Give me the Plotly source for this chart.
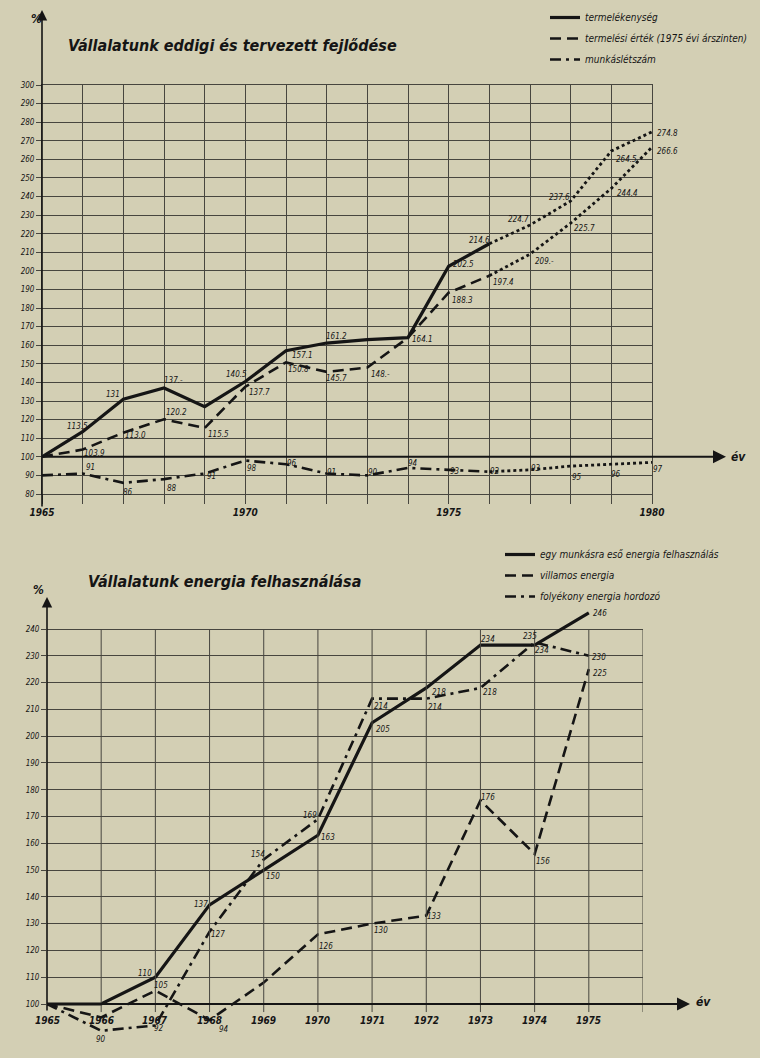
import plotly.graph_objects as go

W, H = 760, 1058
BG = "#d3cfb4"
INK = "#151515"
GRID = "#47463f"
LBL_FONT = "DejaVu Sans Condensed, Liberation Sans Narrow, DejaVu Sans"
TTL_FONT = "DejaVu Sans Condensed, Liberation Sans Narrow, DejaVu Sans"

# ---------------- top chart data ----------------
top_tick_years = [1965, 1970, 1975, 1980]
top_tick_text = ["1965", "1970", "1975", "1980"]

prod_years = list(range(1965, 1977))
prod_vals = [100, 113.5, 131, 137, 127, 140.5, 157.1, 161.2, 163, 164.1, 202.5, 214.6]
prod_labels = ["", "113.5", "131", "137.-", "", "140.5", "157.1", "161.2", "", "164.1", "202.5", "214.6"]
prod_plan_years = [1976, 1977, 1978, 1979, 1980]
prod_plan_vals = [214.6, 224.7, 237.6, 264.5, 274.8]
prod_plan_labels = ["", "224.7", "237.6", "264.5", "274.8"]

value_years = list(range(1965, 1977))
value_vals = [100, 103.9, 113.0, 120.2, 115.5, 137.7, 150.8, 145.7, 148, 164.1, 188.3, 197.4]
value_labels = ["", "103.9", "113.0", "120.2", "115.5", "137.7", "150.8", "145.7", "148.-", "", "188.3", "197.4"]
value_plan_years = [1976, 1977, 1978, 1979, 1980]
value_plan_vals = [197.4, 209, 225.7, 244.4, 266.6]
value_plan_labels = ["", "209.-", "225.7", "244.4", "266.6"]

staff_years = list(range(1965, 1977))
staff_vals = [90, 91, 86, 88, 91, 98, 96, 91, 90, 94, 93, 92]
staff_labels = ["", "91", "86", "88", "91", "98", "96", "91", "90", "94", "93", "92"]
staff_plan_years = [1976, 1977, 1978, 1979, 1980]
staff_plan_vals = [92, 93, 95, 96, 97]
staff_plan_labels = ["", "93", "95", "96", "97"]

# ---------------- bottom chart data ----------------
en_years = list(range(1965, 1976))
en_tick_text = [str(y) for y in en_years]
energy_vals = [100, 100, 110, 137, 150, 163, 205, 218, 234, 234, 246]
energy_labels = ["", "", "110", "137", "150", "163", "205", "218", "234", "234", "246"]
elec_vals = [100, 95, 105, 94, 108, 126, 130, 133, 176, 156, 225]
elec_labels = ["", "", "105", "94", "", "126", "130", "133", "176", "156", "225"]
fluid_vals = [100, 90, 92, 127, 154, 169, 214, 214, 218, 235, 230]
fluid_labels = ["", "90", "92", "127", "154", "169", "214", "214", "218", "235", "230"]

# label offsets (pixels: right, down) -- styling only
prod_off = [None, (-5, -5), (-10, -5), (9, -8), None, (-9, -7), (16, 5), (10, -7), None, (14, 2), (15, -2), (-10, -3)]
prod_plan_off = [None, (-12, -5), (-11, -4), (15, 8), (15, 2)]
value_off = [None, (12, 4), (12, 3), (12, -7), (14, 6), (14, 6), (12, 7), (10, 7), (13, 7), None, (14, 8), (14, 7)]
value_plan_off = [None, (14, 7), (14, 5), (16, 5), (15, 4)]
staff_off = [None, (8, -6), (5, 10), (8, 9), (7, 3), (7, 8), (6, -1), (5, -1), (6, -3), (5, -4), (6, 2), (6, 0)]
staff_plan_off = [None, (6, -1), (6, 11), (5, 10), (6, 7)]
energy_off = [None, None, (-10, -4), (-9, 0), (9, 6), (10, 2), (11, 7), (13, 5), (8, -6), (7, 5), (11, 1)]
elec_off = [None, None, (6, -5), (14, 9), None, (8, 12), (9, 7), (8, 1), (8, -3), (8, 7), (11, 4)]
fluid_off = [None, (0, 9), (4, 3), (8, 3), (-6, -5), (-8, -4), (9, 8), (9, 9), (10, 5), (-5, -6), (10, 2)]

# ---------------- geometry ----------------
T_L, T_R, T_TOP, T_BOT = 42, 652, 85, 494
T_YMIN, T_YMAX = 80, 300
B_L, B_R = 47, 643
B_YMIN, B_YMAX = 84, 250
b_scale = (1004 - 629) / 140.0
B_BOT = 1004 + (100 - B_YMIN) * b_scale
B_TOP = 629 - (B_YMAX - 240) * b_scale


def px(x):
    return x / W


def py(y):
    return 1 - y / H


def top_y_px(v):
    return T_TOP + (T_YMAX - v) * (T_BOT - T_TOP) / (T_YMAX - T_YMIN)


def bot_y_px(v):
    return 1004 - (v - 100) * b_scale


fig = go.Figure()

SOLID = dict(color=INK, width=3.2)
DASHED = dict(color=INK, width=2.6, dash="11px,6px")
DASHDOT = dict(color=INK, width=2.6, dash="11px,5px,3px,5px")
DOTTED = dict(color=INK, width=2.8, dash="3px,3px")

fig.add_trace(go.Scatter(x=prod_years, y=prod_vals, mode="lines", line=SOLID,
                         name="termelékenység", legend="legend", legendgroup="a",
                         xaxis="x", yaxis="y"))
fig.add_trace(go.Scatter(x=value_years, y=value_vals, mode="lines", line=DASHED,
                         name="termelési érték (1975 évi árszinten)", legend="legend", legendgroup="b",
                         xaxis="x", yaxis="y"))
fig.add_trace(go.Scatter(x=staff_years, y=staff_vals, mode="lines", line=DASHDOT,
                         name="munkáslétszám", legend="legend", legendgroup="c",
                         xaxis="x", yaxis="y"))
for xs, ys in [(prod_plan_years, prod_plan_vals), (value_plan_years, value_plan_vals),
               (staff_plan_years, staff_plan_vals)]:
    fig.add_trace(go.Scatter(x=xs, y=ys, mode="lines", line=DOTTED, showlegend=False,
                             xaxis="x", yaxis="y"))

fig.add_trace(go.Scatter(x=en_years, y=energy_vals, mode="lines", line=SOLID,
                         name="egy munkásra eső energia felhasználás", legend="legend2", legendgroup="d",
                         xaxis="x2", yaxis="y2"))
fig.add_trace(go.Scatter(x=en_years, y=elec_vals, mode="lines", line=DASHED,
                         name="villamos energia", legend="legend2", legendgroup="e",
                         xaxis="x2", yaxis="y2"))
fig.add_trace(go.Scatter(x=en_years, y=fluid_vals, mode="lines", line=DASHDOT,
                         name="folyékony energia hordozó", legend="legend2", legendgroup="f",
                         xaxis="x2", yaxis="y2"))

annotations = []


def add_labels(xs, ys, labels, offs, xr, yr):
    for x, y, t, o in zip(xs, ys, labels, offs):
        if not t or o is None:
            continue
        annotations.append(dict(x=x, y=y, xref=xr, yref=yr, text=t, showarrow=False,
                                xshift=o[0], yshift=-o[1],
                                font=dict(family=LBL_FONT, size=8, color=INK, style="italic")))


add_labels(prod_years, prod_vals, prod_labels, prod_off, "x", "y")
add_labels(prod_plan_years, prod_plan_vals, prod_plan_labels, prod_plan_off, "x", "y")
add_labels(value_years, value_vals, value_labels, value_off, "x", "y")
add_labels(value_plan_years, value_plan_vals, value_plan_labels, value_plan_off, "x", "y")
add_labels(staff_years, staff_vals, staff_labels, staff_off, "x", "y")
add_labels(staff_plan_years, staff_plan_vals, staff_plan_labels, staff_plan_off, "x", "y")
add_labels(en_years, energy_vals, energy_labels, energy_off, "x2", "y2")
add_labels(en_years, elec_vals, elec_labels, elec_off, "x2", "y2")
add_labels(en_years, fluid_vals, fluid_labels, fluid_off, "x2", "y2")

for yr, t in zip(en_years, en_tick_text):
    annotations.append(dict(x=yr, y=100, xref="x2", yref="y2", text=t, showarrow=False,
                            yshift=-16, font=dict(family=TTL_FONT, size=10, color=INK,
                                                  weight="bold", style="italic")))


def arrow(hx, hy, tx, ty, w=1.6):
    annotations.append(dict(x=px(hx), y=py(hy), xref="paper", yref="paper", text="",
                            showarrow=True, ax=tx - hx, ay=ty - hy, axref="pixel", ayref="pixel",
                            arrowhead=2, arrowsize=1.3, arrowwidth=w, arrowcolor=INK, standoff=0))


t100 = top_y_px(100)
arrow(T_L, 10, T_L, 508)
arrow(726, t100, T_L, t100, 2.0)
b100 = bot_y_px(100)
arrow(B_L, 597, B_L, 1012)
arrow(690, b100, B_L, b100, 2.0)


def text(x, y, t, size, bold=True, anchor="left"):
    annotations.append(dict(x=px(x), y=py(y), xref="paper", yref="paper", text=t, showarrow=False,
                            xanchor=anchor, yanchor="middle",
                            font=dict(family=TTL_FONT, size=size, color=INK,
                                      weight="bold" if bold else "normal", style="italic")))


text(66, 46, "Vállalatunk eddigi és tervezett fejlődése", 16)
text(86, 581, "Vállalatunk energia felhasználása", 16)
text(29, 19, "%", 12)
text(31, 590, "%", 12)
text(729, t100, "év", 12)
text(694, b100 - 2, "év", 12)

shapes = []
for yr in range(1966, 1977):
    shapes.append(dict(type="line", xref="x2", yref="y2", x0=yr, x1=yr, y0=97, y1=240,
                       line=dict(color=GRID, width=1)))

tick_font_small = dict(family=LBL_FONT, size=8, color=INK, style="italic")

fig.update_layout(
    width=W, height=H,
    margin=dict(l=0, r=0, t=0, b=0, autoexpand=False),
    paper_bgcolor=BG, plot_bgcolor=BG,
    showlegend=True,
    xaxis=dict(domain=[px(T_L), px(T_R)], range=[1965, 1980], anchor="y", automargin=False,
               tickvals=top_tick_years, ticktext=top_tick_text,
               showgrid=True, gridcolor=GRID, gridwidth=1,
               minor=dict(dtick=1, tick0=1965, showgrid=True, gridcolor=GRID, gridwidth=1,
                          ticks="outside", ticklen=9, tickcolor=GRID),
               ticks="outside", ticklen=9, tickcolor=GRID,
               showline=True, mirror=True, linecolor=GRID, linewidth=1, zeroline=False,
               tickfont=dict(family=TTL_FONT, size=10, color=INK, weight="bold", style="italic")),
    yaxis=dict(domain=[py(T_BOT), py(T_TOP)], range=[T_YMIN, T_YMAX], anchor="x", automargin=False,
               dtick=10, tick0=0, showgrid=True, gridcolor=GRID, gridwidth=1,
               ticks="outside", ticklen=5, tickcolor=GRID,
               showline=True, mirror=True, linecolor=GRID, zeroline=False,
               tickfont=tick_font_small),
    xaxis2=dict(domain=[px(B_L), px(B_R)], range=[1965, 1976], anchor="y2", automargin=False,
                showgrid=False, showticklabels=False, ticks="", zeroline=False, showline=False),
    yaxis2=dict(domain=[py(B_BOT), py(B_TOP)], range=[B_YMIN, B_YMAX], anchor="x2", automargin=False,
                tickvals=list(range(100, 250, 10)), showgrid=True, gridcolor=GRID, gridwidth=1,
                ticks="outside", ticklen=5, tickcolor=GRID,
                showline=False, zeroline=False, tickfont=tick_font_small),
    legend=dict(x=px(545), y=py(3), xanchor="left", yanchor="top", bgcolor="rgba(0,0,0,0)",
                tracegroupgap=2, font=dict(family=LBL_FONT, size=10, color=INK, style="italic")),
    legend2=dict(x=px(500), y=py(540), xanchor="left", yanchor="top", bgcolor="rgba(0,0,0,0)",
                 tracegroupgap=2, font=dict(family=LBL_FONT, size=10, color=INK, style="italic")),
    annotations=annotations,
    shapes=shapes,
)

fig.write_html("out.html", config={"displayModeBar": False},
               post_script="document.body.style.margin='0';document.body.style.background='%s';" % BG)
